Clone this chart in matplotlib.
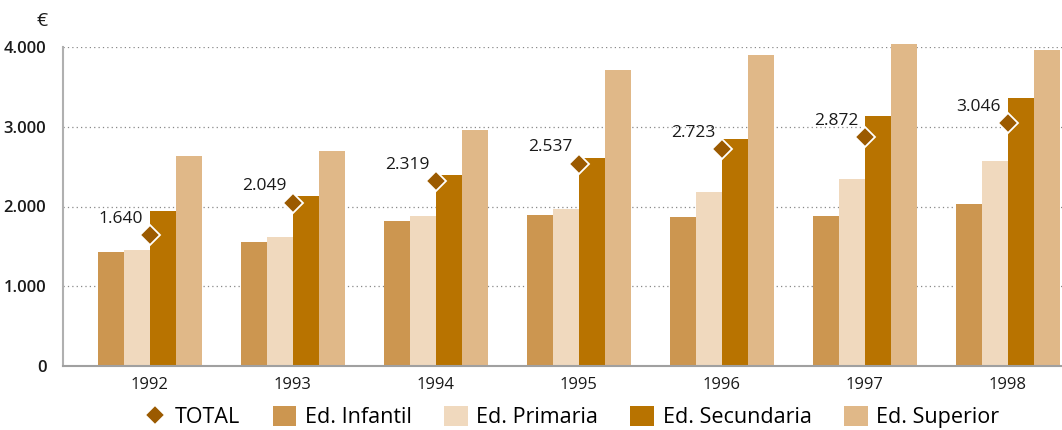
import matplotlib
matplotlib.use('Agg')
import matplotlib.pyplot as plt
import numpy as np
from matplotlib.ticker import FuncFormatter

plt.rcParams['font.family'] = ['Open Sans', 'DejaVu Sans']

years = ['1992', '1993', '1994', '1995', '1996', '1997', '1998']
infantil = [1430, 1555, 1818, 1893, 1868, 1881, 2031]
primaria = [1455, 1618, 1881, 1969, 2182, 2345, 2571]
secundaria = [1944, 2132, 2395, 2608, 2846, 3135, 3360]
superior = [2633, 2696, 2959, 3712, 3900, 4038, 3962]
total = [1640, 2049, 2319, 2537, 2723, 2872, 3046]

series = [('Ed. Infantil', infantil, '#cc9650'),
          ('Ed. Primaria', primaria, '#f0d9be'),
          ('Ed. Secundaria', secundaria, '#b87300'),
          ('Ed. Superior', superior, '#e0b888')]

def fmt(v):
    return f'{int(v):,}'.replace(',', '.')

fig = plt.figure(figsize=(10.62, 4.30), dpi=100)
ax = fig.add_axes([63/1062, 64/430, 1 - 63/1062, 319/430])

x = np.arange(len(years))
w = 0.183
handles = []
for i, (name, vals, col) in enumerate(series):
    b = ax.bar(x + (i - 1.5) * w, vals, w, color=col, label=name, clip_on=False, zorder=2)
    handles.append(b)

tot = ax.plot(x, total, linestyle='none', marker='D', markersize=10, color='#9b5a00',
              markeredgecolor='white', markeredgewidth=1.3, label='TOTAL', zorder=4, clip_on=False)[0]
for xi, v in zip(x, total):
    ax.annotate(fmt(v), (xi, v), xytext=(-5, 6), textcoords='offset points',
                ha='right', va='bottom', fontsize=12.5, color='#1a1a1a', zorder=5)

ax.set_xlim(-0.608, 6.378)
ax.set_ylim(0, 4000)
ax.set_yticks([0, 1000, 2000, 3000, 4000])
ax.yaxis.set_major_formatter(FuncFormatter(lambda v, p: fmt(v)))
ax.set_xticks(x)
ax.set_xticklabels(years, fontsize=12)
for t in ax.get_yticklabels():
    t.set_fontsize(12)
    t.set_fontweight('semibold')
ax.tick_params(axis='both', length=0, colors='#1a1a1a')
ax.tick_params(axis='y', pad=12)
ax.tick_params(axis='x', pad=8)
ax.grid(axis='y', linestyle=(0, (1, 2.5)), color='#888888', linewidth=0.9, zorder=0)
ax.set_axisbelow(True)
for s in ['top', 'right']:
    ax.spines[s].set_visible(False)
ax.spines['left'].set_color('#b0b0b0')
ax.spines['left'].set_linewidth(1.5)
ax.spines['bottom'].set_color('#a0a0a0')
ax.spines['bottom'].set_linewidth(1.5)

fig.text(42/1062, 1 - 21/430, '€', fontsize=14, ha='center', va='center', color='#1a1a1a')

fig.legend([tot] + handles, ['TOTAL'] + [s[0] for s in series], loc='center',
           bbox_to_anchor=(571/1062, 1 - 417/430), ncol=5, frameon=False, fontsize=15.5,
           handlelength=1.1, handleheight=1.1, handletextpad=0.4, columnspacing=1.5)

fig.savefig('out.png', dpi=100)
